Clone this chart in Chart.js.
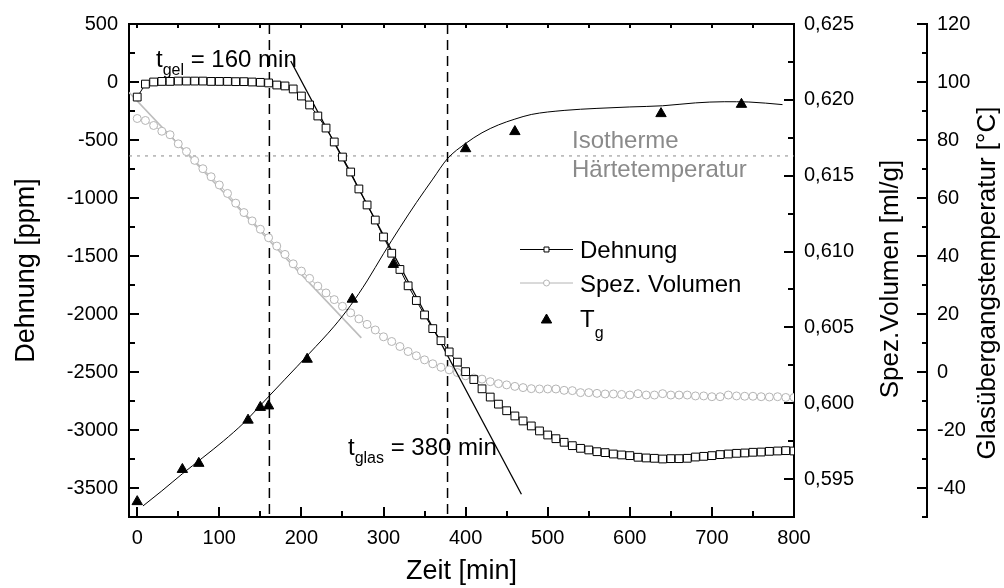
<!DOCTYPE html>
<html>
<head>
<meta charset="utf-8">
<script src="https://cdn.jsdelivr.net/npm/chart.js@4.4.0/dist/chart.umd.min.js"></script>
<style>
  html, body { margin: 0; padding: 0; background: #fff; }
  #wrap { width: 1004px; height: 588px; }
</style>
</head>
<body>
<div id="wrap"><canvas id="myChart" width="1004" height="588"></canvas></div>
<script>
// Messzeit [min], alle 10 min
const zeit = [0,10,20,30,40,50,60,70,80,90,100,110,120,130,140,150,160,170,180,190,200,
  210,220,230,240,250,260,270,280,290,300,310,320,330,340,350,360,370,380,390,400,
  410,420,430,440,450,460,470,480,490,500,510,520,530,540,550,560,570,580,590,600,
  610,620,630,640,650,660,670,680,690,700,710,720,730,740,750,760,770,780,790,800];

// Dehnung [ppm]
const dehnung = [-130,-18,0,5,5,8,8,8,8,5,5,5,3,3,0,-3,-8,-26,-34,-60,-121,
  -198,-293,-397,-517,-647,-776,-922,-1060,-1190,-1336,-1476,-1616,-1757,-1884,-2008,-2126,-2230,-2327,-2415,-2497,
  -2565,-2645,-2716,-2777,-2834,-2879,-2922,-2965,-3008,-3043,-3075,-3106,-3135,-3158,-3172,-3187,-3195,-3207,-3215,-3221,
  -3235,-3241,-3244,-3250,-3247,-3247,-3244,-3233,-3227,-3221,-3212,-3207,-3201,-3198,-3192,-3190,-3184,-3181,-3178,-3181];

// Spez. Volumen [ml/g]
const spezVolumen = [0.61877,0.61864,0.61831,0.61793,0.61770,0.61710,0.61659,0.61601,0.61546,0.61493,0.61439,
  0.61383,0.61319,0.61257,0.61202,0.61147,0.61091,0.61036,0.60981,0.60919,0.60871,
  0.60823,0.60772,0.60727,0.60683,0.60639,0.60596,0.60556,0.60520,0.60483,0.60438,
  0.60407,0.60374,0.60341,0.60313,0.60286,0.60260,0.60237,0.60220,0.60202,0.60181,
  0.60166,0.60159,0.60142,0.60129,0.60121,0.60111,0.60103,0.60096,0.60094,0.60094,
  0.60094,0.60085,0.60083,0.60070,0.60070,0.60065,0.60061,0.60061,0.60058,0.60054,
  0.60063,0.60054,0.60054,0.60063,0.60054,0.60054,0.60054,0.60048,0.60048,0.60043,
  0.60043,0.60054,0.60048,0.60046,0.60046,0.60043,0.60041,0.60043,0.60038,0.60038];

// Glasuebergangstemperatur Tg [°C]
const tgZeit = [0,55,75,135,150,160,207,262,312,400,460,638,736];
const tgWerte = [-44.7,-33.6,-31.5,-16.6,-12.2,-11.7,4.4,25.1,37.1,77.0,82.9,89.1,92.3];

// Anpassung Tg(t)
const tgFitZeit = [7,30,55,80,105,130,155,180,210,240,260,280,300,320,340,360,378,400,420,440,460,480,520,560,600,640,680,715,745,786];
const tgFitWerte = [-46.2,-41,-35.1,-29.5,-23.8,-17.5,-10,-2.5,6.5,15.8,23,31.4,40.8,49.8,58.4,66.5,73.6,78.8,82.5,85.2,87.2,88.8,90.2,90.9,91.4,91.8,92.8,93.2,93.1,92.2];

// Tangenten
const tangDehnungZeit = [187, 468];
const tangDehnung = [181, -3554];
const tangVolumenZeit = [-10, 273];
const tangVolumen = [0.62050, 0.60431];

// Markierungen
const tGel = 161;
const tGlas = 378;
const isotherme = 74.5;

// Achsen
const xMin = -10, xMax = 800;
const dMin = -3750, dMax = 500;
const vMin = 0.5925, vMax = 0.625;
const tMin = -50, tMax = 120;
const xTicks = [0,100,200,300,400,500,600,700,800];
const dehnungTicks = [500,0,-500,-1000,-1500,-2000,-2500,-3000,-3500];
const volumenTicks = [0.625,0.620,0.615,0.610,0.605,0.600,0.595];
const tgTicks = [120,100,80,60,40,20,0,-20,-40];

const schrift = "'Liberation Sans', Arial, sans-serif";
Chart.defaults.font.family = schrift;
Chart.defaults.color = '#000';

function zwischen(major, lo, hi) {
  const s = major.slice().sort((a, b) => a - b);
  const step = s[1] - s[0];
  const out = [];
  for (let i = -1; i < s.length; i++) {
    const v = +(s[0] + (i + 0.5) * step).toFixed(6);
    if (v >= lo - 1e-9 && v <= hi + 1e-9) out.push(v);
  }
  return out;
}
const xMinor = zwischen(xTicks, xMin, xMax);
const dMinor = zwischen(dehnungTicks, dMin, dMax);
const vMinor = zwischen(volumenTicks, vMin, vMax);
const tMinor = zwischen(tgTicks, tMin, tMax);

function setzeTicks(major, minor) {
  return s => { s.ticks = major.concat(minor).sort((a, b) => a - b).map(v => ({ value: v })); };
}
function istMajor(major, v) { return major.some(m => Math.abs(m - v) < 1e-7); }

const pts = (xs, ys) => xs.map((x, i) => ({ x: x, y: ys[i] }));

const tickFont = { family: schrift, size: 20 };
const titelFont = { family: schrift, size: 27 };

// Ticks nach innen, wie im Origin-Plot
const innenTicks = {
  id: 'innenTicks',
  afterDraw(chart) {
    const { ctx, chartArea: a } = chart;
    const sx = chart.scales.x, sy = chart.scales.y, sv = chart.scales.y1, st = chart.scales.y2;
    ctx.save();
    ctx.strokeStyle = '#000';
    ctx.lineWidth = 2;
    const strich = (x1, y1, x2, y2) => { ctx.beginPath(); ctx.moveTo(x1, y1); ctx.lineTo(x2, y2); ctx.stroke(); };
    xTicks.concat(xMinor).forEach(v => {
      const p = Math.round(sx.getPixelForValue(v));
      const len = istMajor(xTicks, v) ? 10 : 6;
      strich(p, a.bottom, p, a.bottom - len);
      strich(p, a.top, p, a.top + 4);
    });
    dehnungTicks.concat(dMinor).forEach(v => {
      const p = Math.round(sy.getPixelForValue(v));
      strich(a.left, p, a.left + (istMajor(dehnungTicks, v) ? 10 : 6), p);
    });
    volumenTicks.concat(vMinor).forEach(v => {
      const p = Math.round(sv.getPixelForValue(v));
      strich(a.right, p, a.right - (istMajor(volumenTicks, v) ? 10 : 6), p);
    });
    tgTicks.concat(tMinor).forEach(v => {
      const p = Math.round(st.getPixelForValue(v));
      strich(st.left, p, st.left - (istMajor(tgTicks, v) ? 10 : 5), p);
    });
    ctx.restore();
  }
};

function textMitIndex(ctx, x, y, haupt, index, nach, gr, grIndex, dy) {
  ctx.font = gr + 'px ' + schrift;
  ctx.fillText(haupt, x, y);
  x += ctx.measureText(haupt).width;
  ctx.font = grIndex + 'px ' + schrift;
  ctx.fillText(index, x, y + dy);
  x += ctx.measureText(index).width;
  if (nach) {
    ctx.font = gr + 'px ' + schrift;
    ctx.fillText(nach, x, y);
  }
}

// Beschriftungen, Legende und rechte Achsentitel
const beschriftung = {
  id: 'beschriftung',
  afterDraw(chart) {
    const ctx = chart.ctx;
    ctx.save();
    ctx.fillStyle = '#000';
    ctx.textAlign = 'left';
    ctx.textBaseline = 'alphabetic';
    textMitIndex(ctx, 156, 67, 't', 'gel', ' = 160 min', 24, 16, 8);
    textMitIndex(ctx, 348, 455, 't', 'glas', ' = 380 min', 24, 16, 8);

    ctx.fillStyle = '#8a8a8a';
    ctx.font = '24px ' + schrift;
    ctx.fillText('Isotherme', 572, 148);
    ctx.fillText('Härtetemperatur', 572, 177);

    // Legende
    const h = Chart.helpers;
    ctx.lineWidth = 1;
    ctx.strokeStyle = '#000';
    ctx.beginPath(); ctx.moveTo(520, 249.5); ctx.lineTo(573, 249.5); ctx.stroke();
    ctx.fillStyle = '#fff';
    h.drawPoint(ctx, { pointStyle: 'rect', radius: 3.5, rotation: 0, borderWidth: 1 }, 546.5, 249.5);
    ctx.strokeStyle = '#b4b4b4';
    ctx.beginPath(); ctx.moveTo(520, 283); ctx.lineTo(573, 283); ctx.stroke();
    ctx.fillStyle = '#fff';
    h.drawPoint(ctx, { pointStyle: 'circle', radius: 3, rotation: 0, borderWidth: 1 }, 546.5, 283);
    ctx.fillStyle = '#000';
    ctx.strokeStyle = '#000';
    h.drawPoint(ctx, { pointStyle: 'triangle', radius: 6, rotation: 0, borderWidth: 1 }, 546.5, 320);
    ctx.font = '24px ' + schrift;
    ctx.fillText('Dehnung', 580, 258);
    ctx.fillText('Spez. Volumen', 580, 292);
    textMitIndex(ctx, 580, 327, 'T', 'g', '', 24, 16, 11);

    // rechte Achsentitel (von unten nach oben gelesen)
    ctx.font = '26px ' + schrift;
    ctx.textAlign = 'center';
    ctx.textBaseline = 'middle';
    [['Spez.Volumen [ml/g]', 891, 279], ['Glasübergangstemperatur [°C]', 988, 283]].forEach(t => {
      ctx.save();
      ctx.translate(t[1], t[2]);
      ctx.rotate(-Math.PI / 2);
      ctx.fillText(t[0], 0, 0);
      ctx.restore();
    });
    ctx.restore();
  }
};

const ctxChart = document.getElementById('myChart').getContext('2d');

const myChart = new Chart(ctxChart, {
  type: 'line',
  data: {
    datasets: [
      {
        label: 'Dehnung',
        data: pts(zeit, dehnung),
        yAxisID: 'y',
        borderColor: '#000',
        borderWidth: 1,
        pointStyle: 'rect',
        pointRadius: 5.5,
        pointBackgroundColor: '#fff',
        pointBorderColor: '#000',
        pointBorderWidth: 1,
        tension: 0,
        order: 1
      },
      {
        label: 'Spez. Volumen',
        data: pts(zeit, spezVolumen),
        yAxisID: 'y1',
        borderColor: '#b4b4b4',
        borderWidth: 1,
        pointStyle: 'circle',
        pointRadius: 4,
        pointBackgroundColor: '#fff',
        pointBorderColor: '#b4b4b4',
        pointBorderWidth: 1,
        tension: 0,
        order: 3
      },
      {
        label: 'Tg',
        data: pts(tgZeit, tgWerte),
        yAxisID: 'y2',
        showLine: false,
        pointStyle: 'triangle',
        pointRadius: 6,
        pointBackgroundColor: '#000',
        pointBorderColor: '#000',
        order: 0
      },
      {
        label: 'Tg Anpassung',
        data: pts(tgFitZeit, tgFitWerte),
        yAxisID: 'y2',
        borderColor: '#000',
        borderWidth: 1,
        pointRadius: 0,
        cubicInterpolationMode: 'monotone',
        order: 2
      },
      {
        label: 'Tangente Dehnung',
        data: pts(tangDehnungZeit, tangDehnung),
        yAxisID: 'y',
        borderColor: '#000',
        borderWidth: 1.3,
        pointRadius: 0,
        order: 2
      },
      {
        label: 'Tangente Volumen',
        data: pts(tangVolumenZeit, tangVolumen),
        yAxisID: 'y1',
        borderColor: '#bdbdbd',
        borderWidth: 1.6,
        pointRadius: 0,
        order: 4
      },
      {
        label: 't_gel',
        data: [{ x: tGel, y: dMax }, { x: tGel, y: dMin }],
        yAxisID: 'y',
        borderColor: '#000',
        borderWidth: 1.5,
        borderDash: [10, 6],
        pointRadius: 0,
        order: 5
      },
      {
        label: 't_glas',
        data: [{ x: tGlas, y: dMax }, { x: tGlas, y: dMin }],
        yAxisID: 'y',
        borderColor: '#000',
        borderWidth: 1.5,
        borderDash: [10, 6],
        pointRadius: 0,
        order: 5
      },
      {
        label: 'Isotherme',
        data: [{ x: xMin, y: isotherme }, { x: xMax, y: isotherme }],
        yAxisID: 'y2',
        borderColor: '#8a8a8a',
        borderWidth: 1,
        borderDash: [3, 5],
        pointRadius: 0,
        order: 6
      }
    ]
  },
  options: {
    responsive: false,
    devicePixelRatio: 1,
    animation: false,
    events: [],
    layout: { padding: 0 },
    plugins: {
      legend: { display: false },
      tooltip: { enabled: false }
    },
    scales: {
      x: {
        type: 'linear',
        position: 'bottom',
        min: xMin,
        max: xMax,
        afterBuildTicks: setzeTicks(xTicks, xMinor),
        afterFit: s => { s.height = 71; },
        grid: { display: false, drawTicks: false },
        border: { display: true, color: '#000', width: 2 },
        ticks: {
          autoSkip: false,
          maxRotation: 0,
          padding: 9,
          font: tickFont,
          callback: v => istMajor(xTicks, v) ? String(v) : ''
        },
        title: { display: true, text: 'Zeit [min]', font: titelFont, padding: { top: 0, bottom: 0 } }
      },
      xTop: {
        type: 'linear',
        position: 'top',
        min: xMin,
        max: xMax,
        afterFit: s => { s.height = 24; },
        grid: { display: false, drawTicks: false },
        border: { display: true, color: '#000', width: 2 },
        ticks: { display: false }
      },
      y: {
        type: 'linear',
        position: 'left',
        min: dMin,
        max: dMax,
        afterBuildTicks: setzeTicks(dehnungTicks, dMinor),
        afterFit: s => { s.width = 129; },
        grid: { display: false, drawTicks: false },
        border: { display: true, color: '#000', width: 2 },
        ticks: {
          autoSkip: false,
          padding: 11,
          font: tickFont,
          callback: v => istMajor(dehnungTicks, v) ? String(v) : ''
        },
        title: { display: true, text: 'Dehnung [ppm]', font: titelFont, padding: { top: 10, bottom: 0 } }
      },
      y1: {
        type: 'linear',
        position: 'right',
        weight: 0,
        min: vMin,
        max: vMax,
        afterBuildTicks: setzeTicks(volumenTicks, vMinor),
        afterFit: s => { s.width = 133; },
        grid: { display: false, drawTicks: false },
        border: { display: true, color: '#000', width: 2 },
        ticks: {
          autoSkip: false,
          padding: 10,
          font: tickFont,
          callback: v => istMajor(volumenTicks, v) ? v.toFixed(3).replace('.', ',') : ''
        }
      },
      y2: {
        type: 'linear',
        position: 'right',
        weight: 1,
        min: tMin,
        max: tMax,
        afterBuildTicks: setzeTicks(tgTicks, tMinor),
        afterFit: s => { s.width = 77; },
        grid: { display: false, drawTicks: false },
        border: { display: true, color: '#000', width: 2 },
        ticks: {
          autoSkip: false,
          padding: 10,
          font: tickFont,
          callback: v => istMajor(tgTicks, v) ? String(v) : ''
        }
      }
    }
  },
  plugins: [innenTicks, beschriftung]
});
</script>
</body>
</html>
